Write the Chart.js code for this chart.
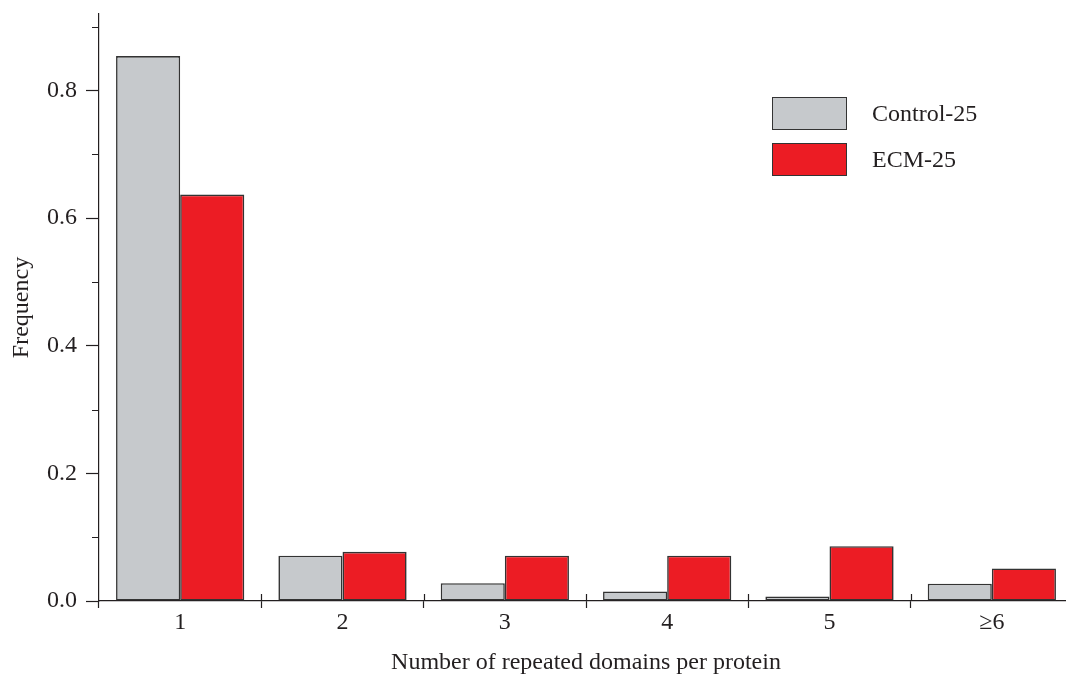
<!DOCTYPE html>
<html>
<head>
<meta charset="utf-8">
<script src="https://cdn.jsdelivr.net/npm/chart.js@4/dist/chart.umd.min.js"></script>
<style>
  html, body { margin: 0; padding: 0; background: #fff; overflow: hidden; }
  #wrap { position: relative; width: 1074px; height: 675px; }
  #legend { position: absolute; left: 772px; top: 96px; font-family: "Liberation Serif", serif; font-size: 24px; color: #231f20; }
  .lg-row { display: flex; align-items: center; height: 34px; margin-bottom: 12px; }
  .lg-box { width: 73px; height: 31px; border: 1.5px solid #333; margin-right: 25px; }
</style>
</head>
<body>
<div id="wrap">
  <canvas id="chart" width="1074" height="675"></canvas>
  <div id="legend"></div>
</div>
<script>
// data
const categories = ['1', '2', '3', '4', '5', '\u22656'];
const controlVals = [0.854, 0.071, 0.028, 0.015, 0.007, 0.027];
const ecmVals     = [0.637, 0.077, 0.071, 0.071, 0.086, 0.051];
const seriesNames = ['Control-25', 'ECM-25'];
const yTicks = [0, 0.1, 0.2, 0.3, 0.4, 0.5, 0.6, 0.7, 0.8, 0.9];

const INK = '#231f20';
const FONT = { family: '"Liberation Serif", serif', size: 24 };
const isMajor = v => Math.abs(v / 0.2 - Math.round(v / 0.2)) < 1e-6;

// short minor ticks on y, and the upward half of the category separators on x
const extraTicks = {
  id: 'extraTicks',
  afterDraw(chart) {
    const { ctx, chartArea: a, scales: { x, y } } = chart;
    ctx.save();
    ctx.strokeStyle = INK;
    ctx.lineWidth = 1.2;
    ctx.beginPath();
    yTicks.filter(v => !isMajor(v)).forEach(v => {
      const py = Math.round(y.getPixelForValue(v)) + 0.5;
      ctx.moveTo(a.left - 7, py); ctx.lineTo(a.left, py);
    });
    for (let i = 1; i < categories.length; i++) {
      const px = Math.round((x.getPixelForValue(i - 1) + x.getPixelForValue(i)) / 2) + 0.5;
      ctx.moveTo(px, a.bottom - 7); ctx.lineTo(px, a.bottom);
    }
    ctx.stroke();
    ctx.restore();
  }
};

const chart = new Chart(document.getElementById('chart').getContext('2d'), {
  type: 'bar',
  data: {
    labels: categories,
    datasets: [
      {
        label: seriesNames[0],
        data: controlVals,
        backgroundColor: '#c6c9cc',
        borderColor: '#333',
        borderWidth: 1.6,
        borderSkipped: false
      },
      {
        label: seriesNames[1],
        data: ecmVals,
        backgroundColor: '#ec1c24',
        borderColor: '#333',
        borderWidth: 1.6,
        borderSkipped: false
      }
    ]
  },
  options: {
    responsive: false,
    animation: false,
    layout: { padding: { top: 14, right: 1, left: 0, bottom: 0 } },
    datasets: { bar: { categoryPercentage: 0.79, barPercentage: 1 } },
    plugins: { legend: { display: false }, tooltip: { enabled: false } },
    scales: {
      x: {
        grid: { offset: true, drawOnChartArea: false, tickLength: 7, tickColor: INK, tickWidth: 1.2 },
        border: { color: INK, width: 1.2 },
        ticks: { font: FONT, color: INK, padding: 0 },
        title: { display: true, text: 'Number of repeated domains per protein', font: { ...FONT, lineHeight: 1 }, color: INK, padding: { top: 0, bottom: 0 } },
        afterFit: s => { s.height = 74; }
      },
      y: {
        min: 0, max: 0.92,
        grid: {
          drawOnChartArea: false, tickLength: 13, tickWidth: 1.2,
          tickColor: c => (c.tick && isMajor(c.tick.value)) ? INK : 'rgba(0,0,0,0)'
        },
        border: { color: INK, width: 1.2 },
        afterBuildTicks: s => { s.ticks = yTicks.map(v => ({ value: v })); },
        ticks: {
          includeBounds: false,
          font: FONT, color: INK, padding: 9,
          callback: v => isMajor(v) ? v.toFixed(1) : ''
        },
        title: { display: true, text: 'Frequency', font: { ...FONT, lineHeight: 1 }, color: INK, padding: { top: 10, bottom: 0 } },
        afterFit: s => { s.width = 99; s.paddingTop = 0; s.paddingBottom = 0; }
      }
    }
  },
  plugins: [extraTicks]
});

// html legend built from the datasets
const lg = document.getElementById('legend');
chart.data.datasets.forEach(ds => {
  const row = document.createElement('div');
  row.className = 'lg-row';
  const box = document.createElement('div');
  box.className = 'lg-box';
  box.style.background = ds.backgroundColor;
  const txt = document.createElement('span');
  txt.textContent = ds.label;
  row.appendChild(box); row.appendChild(txt);
  lg.appendChild(row);
});
</script>
</body>
</html>
